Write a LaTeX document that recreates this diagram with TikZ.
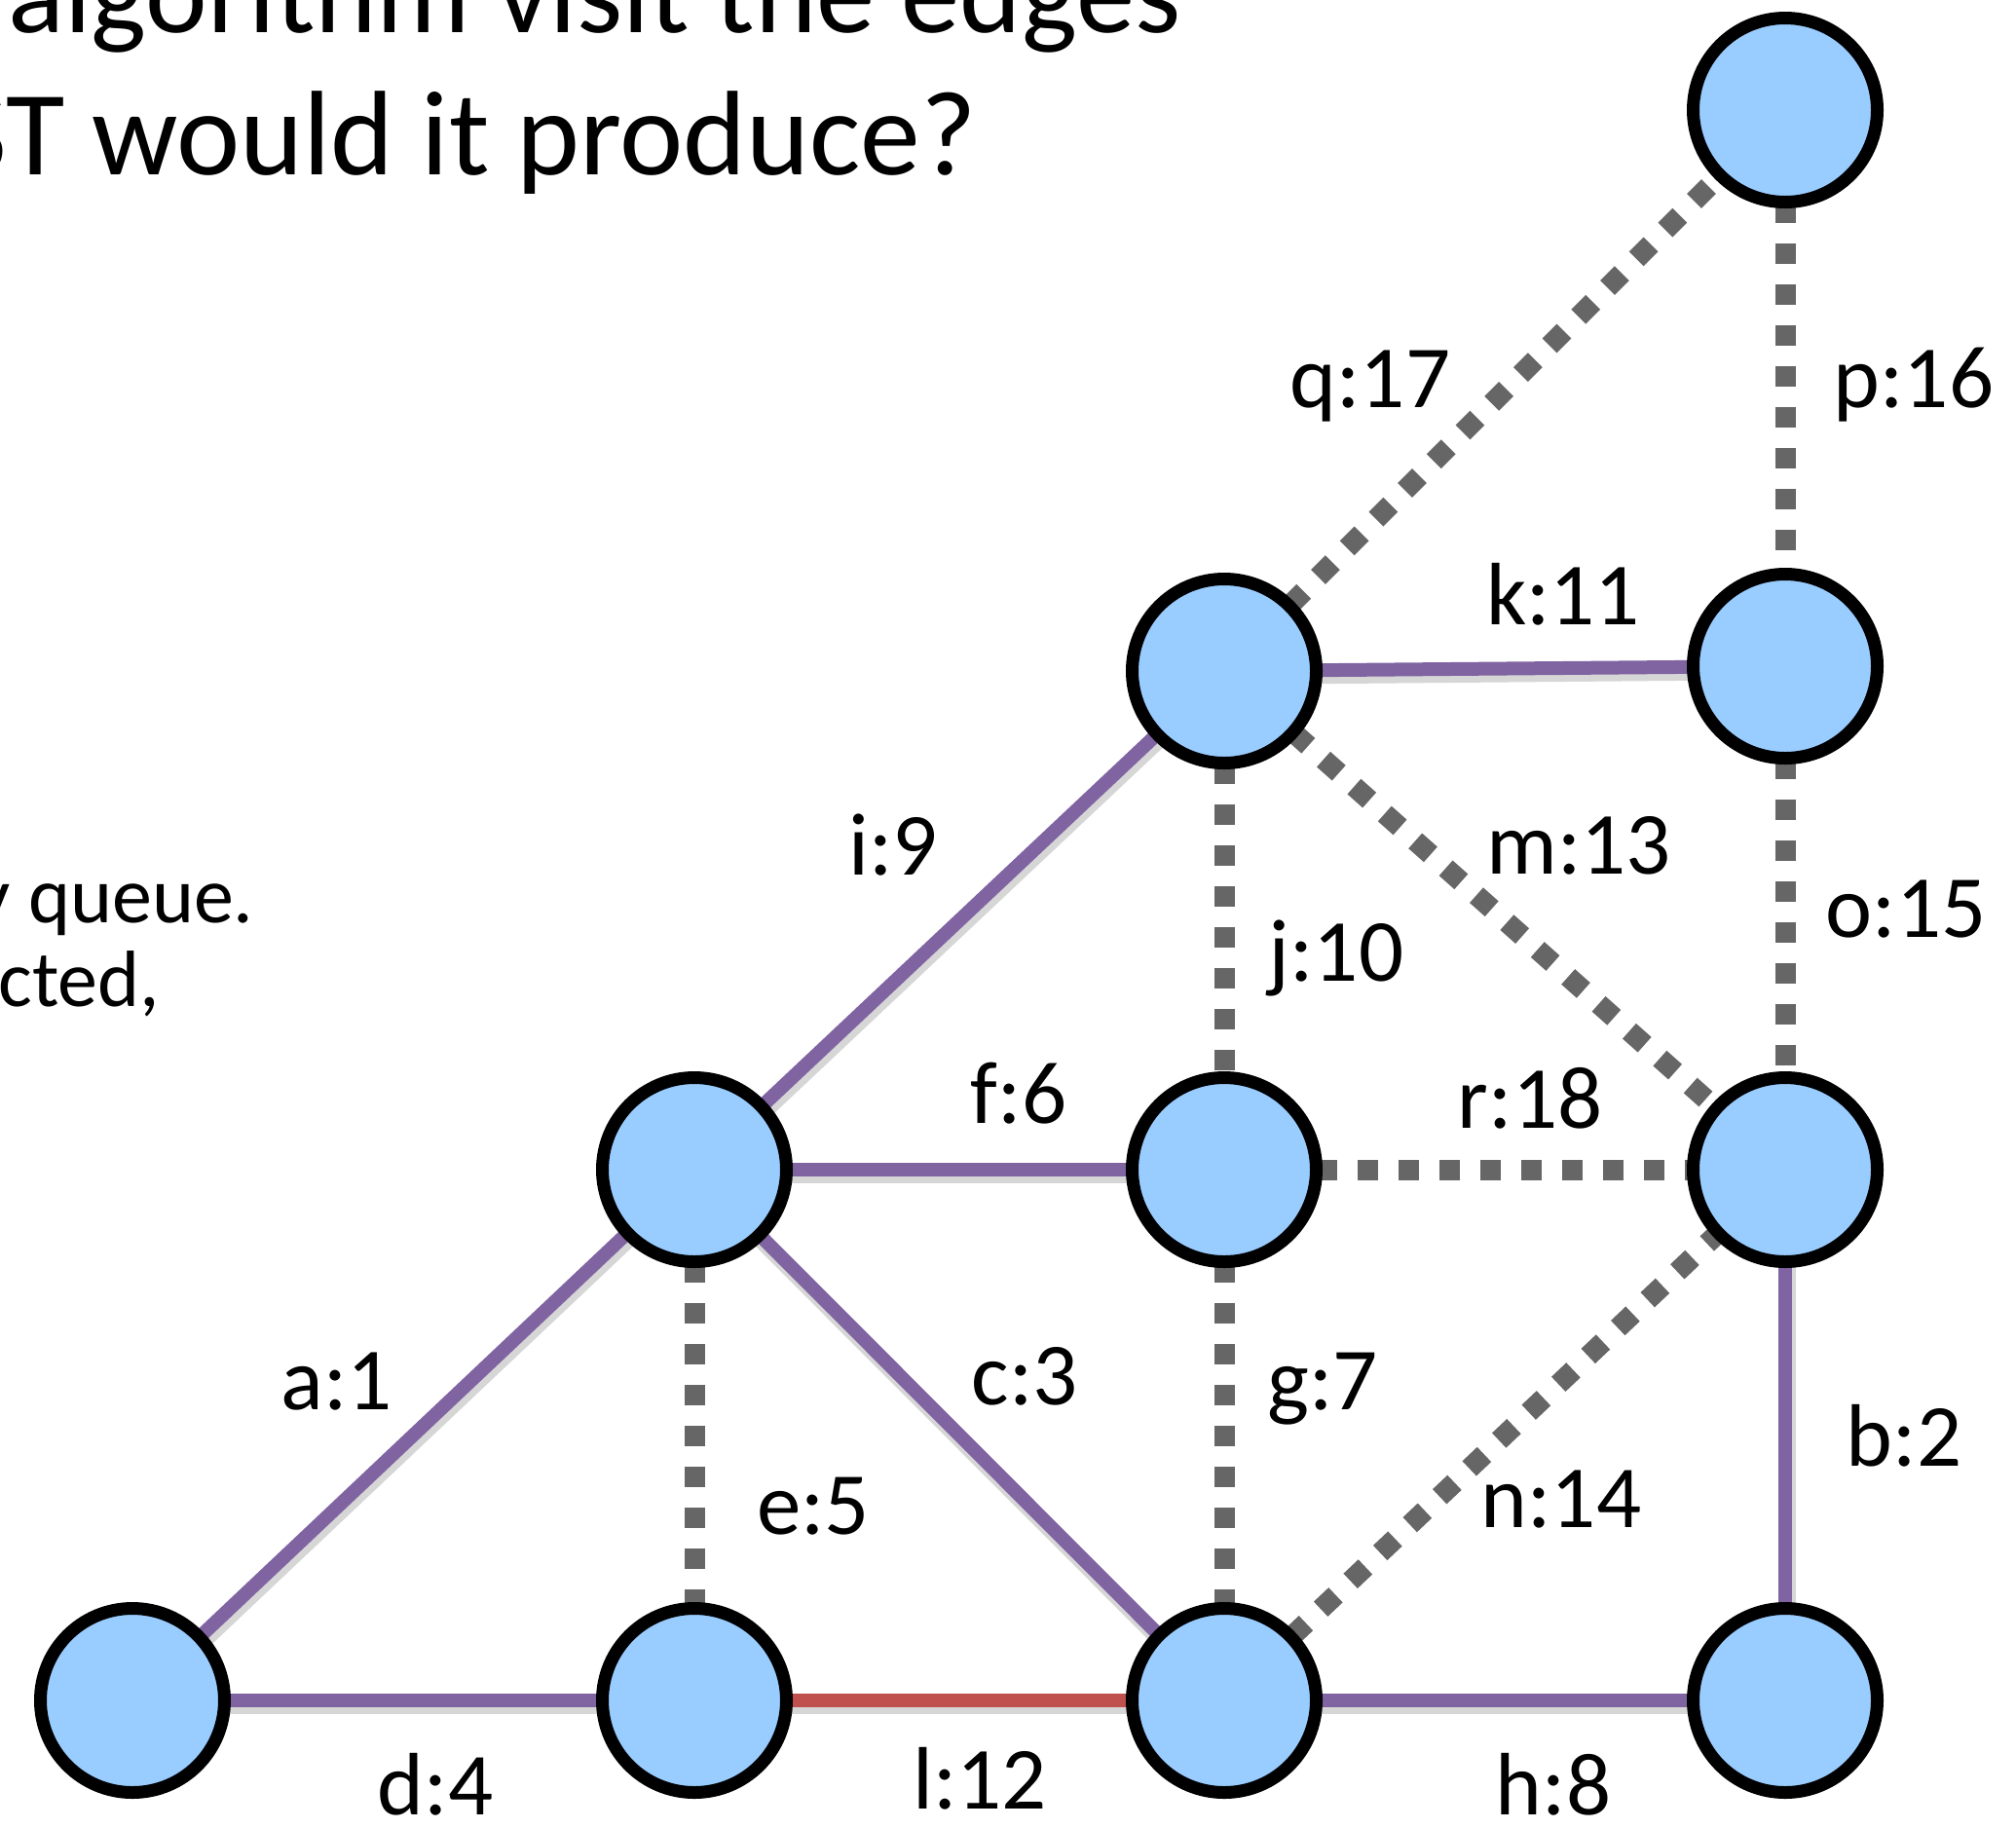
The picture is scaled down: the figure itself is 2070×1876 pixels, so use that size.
\documentclass[tikz,border=0pt]{standalone}
\usepackage{fontspec}
\setmainfont{Carlito}
\definecolor{nodeblue}{HTML}{99CCFF}
\definecolor{edgepurple}{HTML}{8064A2}
\definecolor{edgered}{HTML}{C0504D}
\definecolor{edgegray}{HTML}{666666}
\pgfdeclarelayer{background}
\pgfsetlayers{background,main}
\begin{document}
\begin{tikzpicture}[x=0.5pt,y=-0.5pt,
  vert/.style={circle, draw=black, line width=6.5pt, fill=nodeblue, minimum size=94.5pt, inner sep=0pt, outer sep=0pt},
  shadowed/.style={preaction={draw=black, draw opacity=0.16, line width=9pt, transform canvas={xshift=1pt,yshift=-2.5pt}}},
  treeedge/.style={draw=edgepurple, line width=7pt, shadowed},
  rejectedge/.style={draw=edgered, line width=7pt, shadowed},
  unusededge/.style={draw=edgegray, line width=10.5pt, dash pattern=on 10.5pt off 10.5pt},
  lbl/.style={font=\fontsize{45.5}{54}\selectfont, anchor=base, inner sep=0pt},
  titletext/.style={anchor=base west, inner sep=0pt},
  notetext/.style={font=\fontsize{41}{45}\selectfont, anchor=base west, inner sep=0pt},
]
\useasboundingbox (0,0) rectangle (2070,1876);
\clip (0,0) rectangle (2070,1876);

% title and side text (cut off by the frame)
\node[titletext, font=\fontsize{60.3}{72}\selectfont] (title1) at (8,33) {algorithm visit the edges};
\node[titletext, font=\fontsize{61.8}{72}\selectfont] (title2) at (-50,179) {ST would it produce?};
\node[notetext] (note1) at (-27,947) {y queue.};
\node[notetext] (note2) at (-2,1033) {cted,};

% vertices
\node[vert] (top) at (1833,113) {};
\node[vert] (tm) at (1257,689) {};
\node[vert] (tr) at (1833,684) {};
\node[vert] (ml) at (713,1201) {};
\node[vert] (c) at (1257,1201) {};
\node[vert] (mr) at (1833,1201) {};
\node[vert] (bl) at (136,1746) {};
\node[vert] (b2) at (713,1746) {};
\node[vert] (b3) at (1257,1746) {};
\node[vert] (br) at (1833,1746) {};

% edges
\begin{pgfonlayer}{background}
\draw[treeedge] (bl) -- (ml);
\draw[treeedge] (bl) -- (b2);
\draw[unusededge] (ml) -- (b2);
\draw[rejectedge] (b2) -- (b3);
\draw[treeedge] (ml) -- (b3);
\draw[treeedge] (ml) -- (c);
\draw[treeedge] (ml) -- (tm);
\draw[unusededge] (c) -- (b3);
\draw[unusededge] (tm) -- (c);
\draw[treeedge] (b3) -- (br);
\draw[unusededge] (b3) -- (mr);
\draw[treeedge] (mr) -- (br);
\draw[unusededge] (c) -- (mr);
\draw[unusededge] (tm) -- (mr);
\draw[treeedge] (tm) -- (tr);
\draw[unusededge] (tr) -- (mr);
\draw[unusededge] (top) -- (tr);
\draw[unusededge] (tm) -- (top);
\end{pgfonlayer}

% edge labels
\node[lbl] (lq) at (1407,418) {q:17};
\node[lbl] (lp) at (1965,418) {p:16};
\node[lbl] (lk) at (1605,641) {k:11};
\node[lbl] (li) at (917,898) {i:9};
\node[lbl] (lm) at (1621,897) {m:13};
\node[lbl] (lj) at (1372,1007) {j:10};
\node[lbl] (lo) at (1957,962) {o:15};
\node[lbl] (lf) at (1046,1153) {f:6};
\node[lbl] (lr) at (1571,1158) {r:18};
\node[lbl] (la) at (346,1447) {a:1};
\node[lbl] (lc) at (1052,1442) {c:3};
\node[lbl] (lg) at (1358,1447) {g:7};
\node[lbl] (lb) at (1955,1505) {b:2};
\node[lbl] (le) at (835,1575) {e:5};
\node[lbl] (ln) at (1603,1568) {n:14};
\node[lbl] (ld) at (447,1863) {d:4};
\node[lbl] (ll) at (1006,1857) {l:12};
\node[lbl] (lh) at (1595,1863) {h:8};
\end{tikzpicture}
\end{document}
